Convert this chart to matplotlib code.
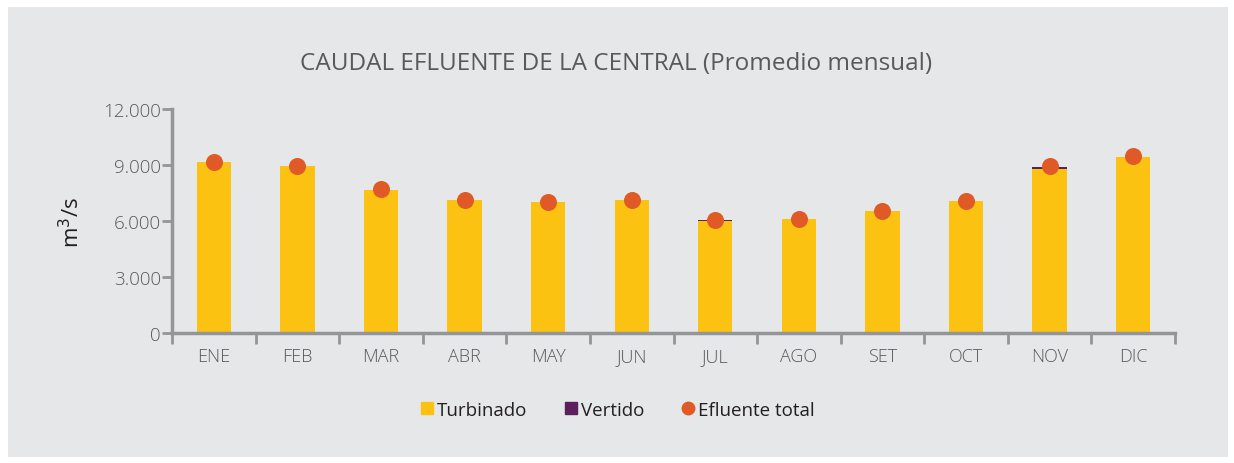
import matplotlib
matplotlib.use("Agg")
import matplotlib.pyplot as plt
from matplotlib.patches import Rectangle
from matplotlib.lines import Line2D
from matplotlib.ticker import FuncFormatter, FixedLocator

months = ["ENE", "FEB", "MAR", "ABR", "MAY", "JUN", "JUL", "AGO", "SET", "OCT", "NOV", "DIC"]
turbinado = [9150, 8920, 7680, 7100, 7000, 7100, 6000, 6125, 6530, 7080, 8810, 9440]
vertido = [0, 0, 0, 0, 0, 0, 35, 0, 0, 0, 100, 0]
efluente_total = [9170, 8930, 7690, 7110, 7030, 7110, 6030, 6130, 6530, 7090, 8940, 9470]
yticks = [0, 3000, 6000, 9000, 12000]

FONT = ["Open Sans", "DejaVu Sans"]
plt.rcParams["font.family"] = FONT

fig = plt.figure(figsize=(12.34, 4.64), dpi=100, facecolor="white")
bg = Rectangle((8/1234, 6/464), 1220/1234, 450/464, transform=fig.transFigure,
               facecolor="#e6e7e8", edgecolor="none", zorder=-10)
fig.patches.append(bg)

ax = fig.add_axes([172/1234, 1-334/464, (1175-172)/1234, (334-110)/464])
ax.set_facecolor("none")
ax.set_zorder(5)
x = list(range(len(months)))
ax.bar(x, turbinado, width=0.41, color="#fbc212", zorder=2)
ax.bar(x, vertido, width=0.41, bottom=turbinado, color="#5b1f5e", zorder=2)
ax.scatter(x, efluente_total, s=150, color="#e05a27", zorder=3, linewidths=0)

ax.set_xlim(-0.5, len(months)-0.5)
ax.set_ylim(0, 12000)
ax.yaxis.set_major_locator(FixedLocator(yticks))
ax.yaxis.set_major_formatter(FuncFormatter(lambda v, p: f"{int(v):,}".replace(",", ".")))
ax.set_xticks(x)
ax.set_xticklabels(months)
ax.set_xticks([i-0.5 for i in range(len(months)+1)], minor=True)
ax.tick_params(axis="x", which="major", length=0, pad=10, labelsize=13, labelcolor="#58595b")
ax.tick_params(axis="x", which="minor", length=8, width=2, color="#939598", direction="out")
ax.tick_params(axis="y", length=7, width=2, color="#939598", labelsize=13.5, labelcolor="#58595b", pad=1)
for lab in ax.get_xticklabels() + ax.get_yticklabels():
    lab.set_fontweight("light")

for s in ["top", "right"]:
    ax.spines[s].set_visible(False)
for s in ["left", "bottom"]:
    ax.spines[s].set_color("#939598")
    ax.spines[s].set_linewidth(2.5)

fig.text(616/1234, 1-64/464, "CAUDAL EFLUENTE DE LA CENTRAL (Promedio mensual)", ha="center", va="center",
         fontsize=17.5, color="#58595b")
fig.text(72/1234, 1-222/464, "m$^3$/s", ha="center", va="center", rotation=90, fontsize=16, color="#231f20")

handles = [
    Line2D([], [], marker="s", linestyle="none", markersize=8, color="#fbc212"),
    Line2D([], [], marker="s", linestyle="none", markersize=8, color="#5b1f5e"),
    Line2D([], [], marker="o", linestyle="none", markersize=9, color="#e05a27"),
]
fig.legend(handles, ["Turbinado", "Vertido", "Efluente total"], loc="center",
           bbox_to_anchor=(616/1234, 1-411/464), ncol=3, frameon=False, fontsize=13.5,
           handletextpad=0.05, columnspacing=1.8, handlelength=1.0, labelcolor="#231f20")

fig.savefig("out.png", dpi=100, facecolor="white")
